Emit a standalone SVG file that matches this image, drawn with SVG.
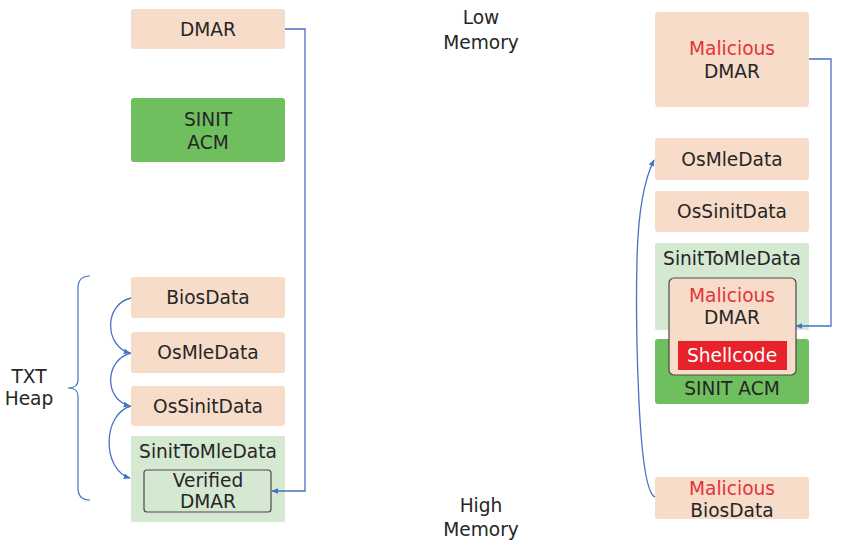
<svg xmlns="http://www.w3.org/2000/svg" width="841" height="547" viewBox="0 0 841 547">
<style>
text{font-family:"DejaVu Sans","Verdana",sans-serif;font-size:18.6px;fill:#262626;text-anchor:middle}
.peach{fill:#F7DCC9}
.green{fill:#70BF5E}
.lgreen{fill:#D5E8D1}
.red{fill:#E3343A}
.wt{fill:#ffffff}
.conn{fill:none;stroke:#4472C4;stroke-width:1.3}
.inner{stroke:#4a4a4a;stroke-width:1.2}
</style>
<defs>
<marker id="ah" viewBox="0 0 10 10" refX="9" refY="5" markerWidth="7" markerHeight="7" orient="auto" markerUnits="userSpaceOnUse">
<path d="M0,1 L10,5 L0,9 z" fill="#4472C4"/>
</marker>
</defs>
<rect width="841" height="547" fill="#ffffff"/>

<g id="low-memory"><text x="481" y="24">Low</text><text x="481" y="49">Memory</text></g>
<g id="high-memory"><text x="481" y="512">High</text><text x="481" y="536">Memory</text></g>

<g id="txt-heap">
<path d="M90,276 Q78,276 78,288 L78,380 Q78,388 68,388 Q78,388 78,396 L78,488 Q78,500 90,500" fill="none" stroke="#4472C4" stroke-width="1.2"/>
<text x="29" y="383">TXT</text><text x="29" y="405">Heap</text>
</g>

<g id="l-dmar"><rect class="peach" x="131" y="9" width="154" height="40" rx="3"/><text x="208" y="36">DMAR</text></g>
<g id="l-sinit-acm"><rect class="green" x="131" y="98" width="154" height="64" rx="3"/><text x="208" y="126">SINIT</text><text x="208" y="149">ACM</text></g>
<g id="l-biosdata"><rect class="peach" x="131" y="277" width="154" height="41" rx="3"/><text x="208" y="304">BiosData</text></g>
<g id="l-osmledata"><rect class="peach" x="131" y="332" width="154" height="41" rx="3"/><text x="208" y="359">OsMleData</text></g>
<g id="l-ossinitdata"><rect class="peach" x="131" y="386" width="154" height="40" rx="3"/><text x="208" y="413">OsSinitData</text></g>
<g id="l-sinittomledata"><rect class="lgreen" x="131" y="436" width="154" height="86" rx="2"/><text x="208" y="458">SinitToMleData</text></g>
<g id="l-verified-dmar"><rect class="lgreen inner" x="144" y="470" width="127" height="42" rx="3"/><text x="208" y="487">Verified</text><text x="208" y="508">DMAR</text></g>

<g id="r-malicious-dmar"><rect class="peach" x="655" y="12" width="154" height="95" rx="4"/><text x="732" y="55" class="red">Malicious</text><text x="732" y="78">DMAR</text></g>
<g id="r-osmledata"><rect class="peach" x="655" y="138" width="154" height="42" rx="3"/><text x="732" y="166">OsMleData</text></g>
<g id="r-ossinitdata"><rect class="peach" x="655" y="191" width="154" height="41" rx="3"/><text x="732" y="218">OsSinitData</text></g>
<g id="r-sinittomledata"><rect class="lgreen" x="655" y="243" width="154" height="87" rx="2"/><text x="732" y="265">SinitToMleData</text></g>
<g id="r-sinit-acm"><rect class="green" x="655" y="339" width="154" height="65" rx="3"/><text x="732" y="395">SINIT ACM</text></g>
<g id="r-inner-malicious-dmar"><rect class="peach inner" x="669" y="278" width="127" height="97" rx="5"/><text x="732" y="302" class="red">Malicious</text><text x="732" y="324">DMAR</text></g>
<g id="r-shellcode"><rect fill="#E8222A" x="678" y="341" width="109" height="29"/><text x="732" y="362" class="wt">Shellcode</text></g>
<g id="r-malicious-biosdata"><rect class="peach" x="655" y="477" width="154" height="42" rx="3"/><text x="732" y="495" class="red">Malicious</text><text x="732" y="517">BiosData</text></g>

<g id="connectors">
<path class="conn" d="M285,29 H305 V491 H272" marker-end="url(#ah)"/>
<path class="conn" d="M131,298 C104,304 104,346 130,353" marker-end="url(#ah)"/>
<path class="conn" d="M131,353 C104,360 104,400 130,406" marker-end="url(#ah)"/>
<path class="conn" d="M131,406 C102,414 102,470 130,478" marker-end="url(#ah)"/>
<path class="conn" d="M809,59 H831 V326 H796" marker-end="url(#ah)"/>
<path class="conn" d="M655,497 C636,490 636,300 637,260 C638,215 644,180 654,160" marker-end="url(#ah)"/>
</g>
</svg>
